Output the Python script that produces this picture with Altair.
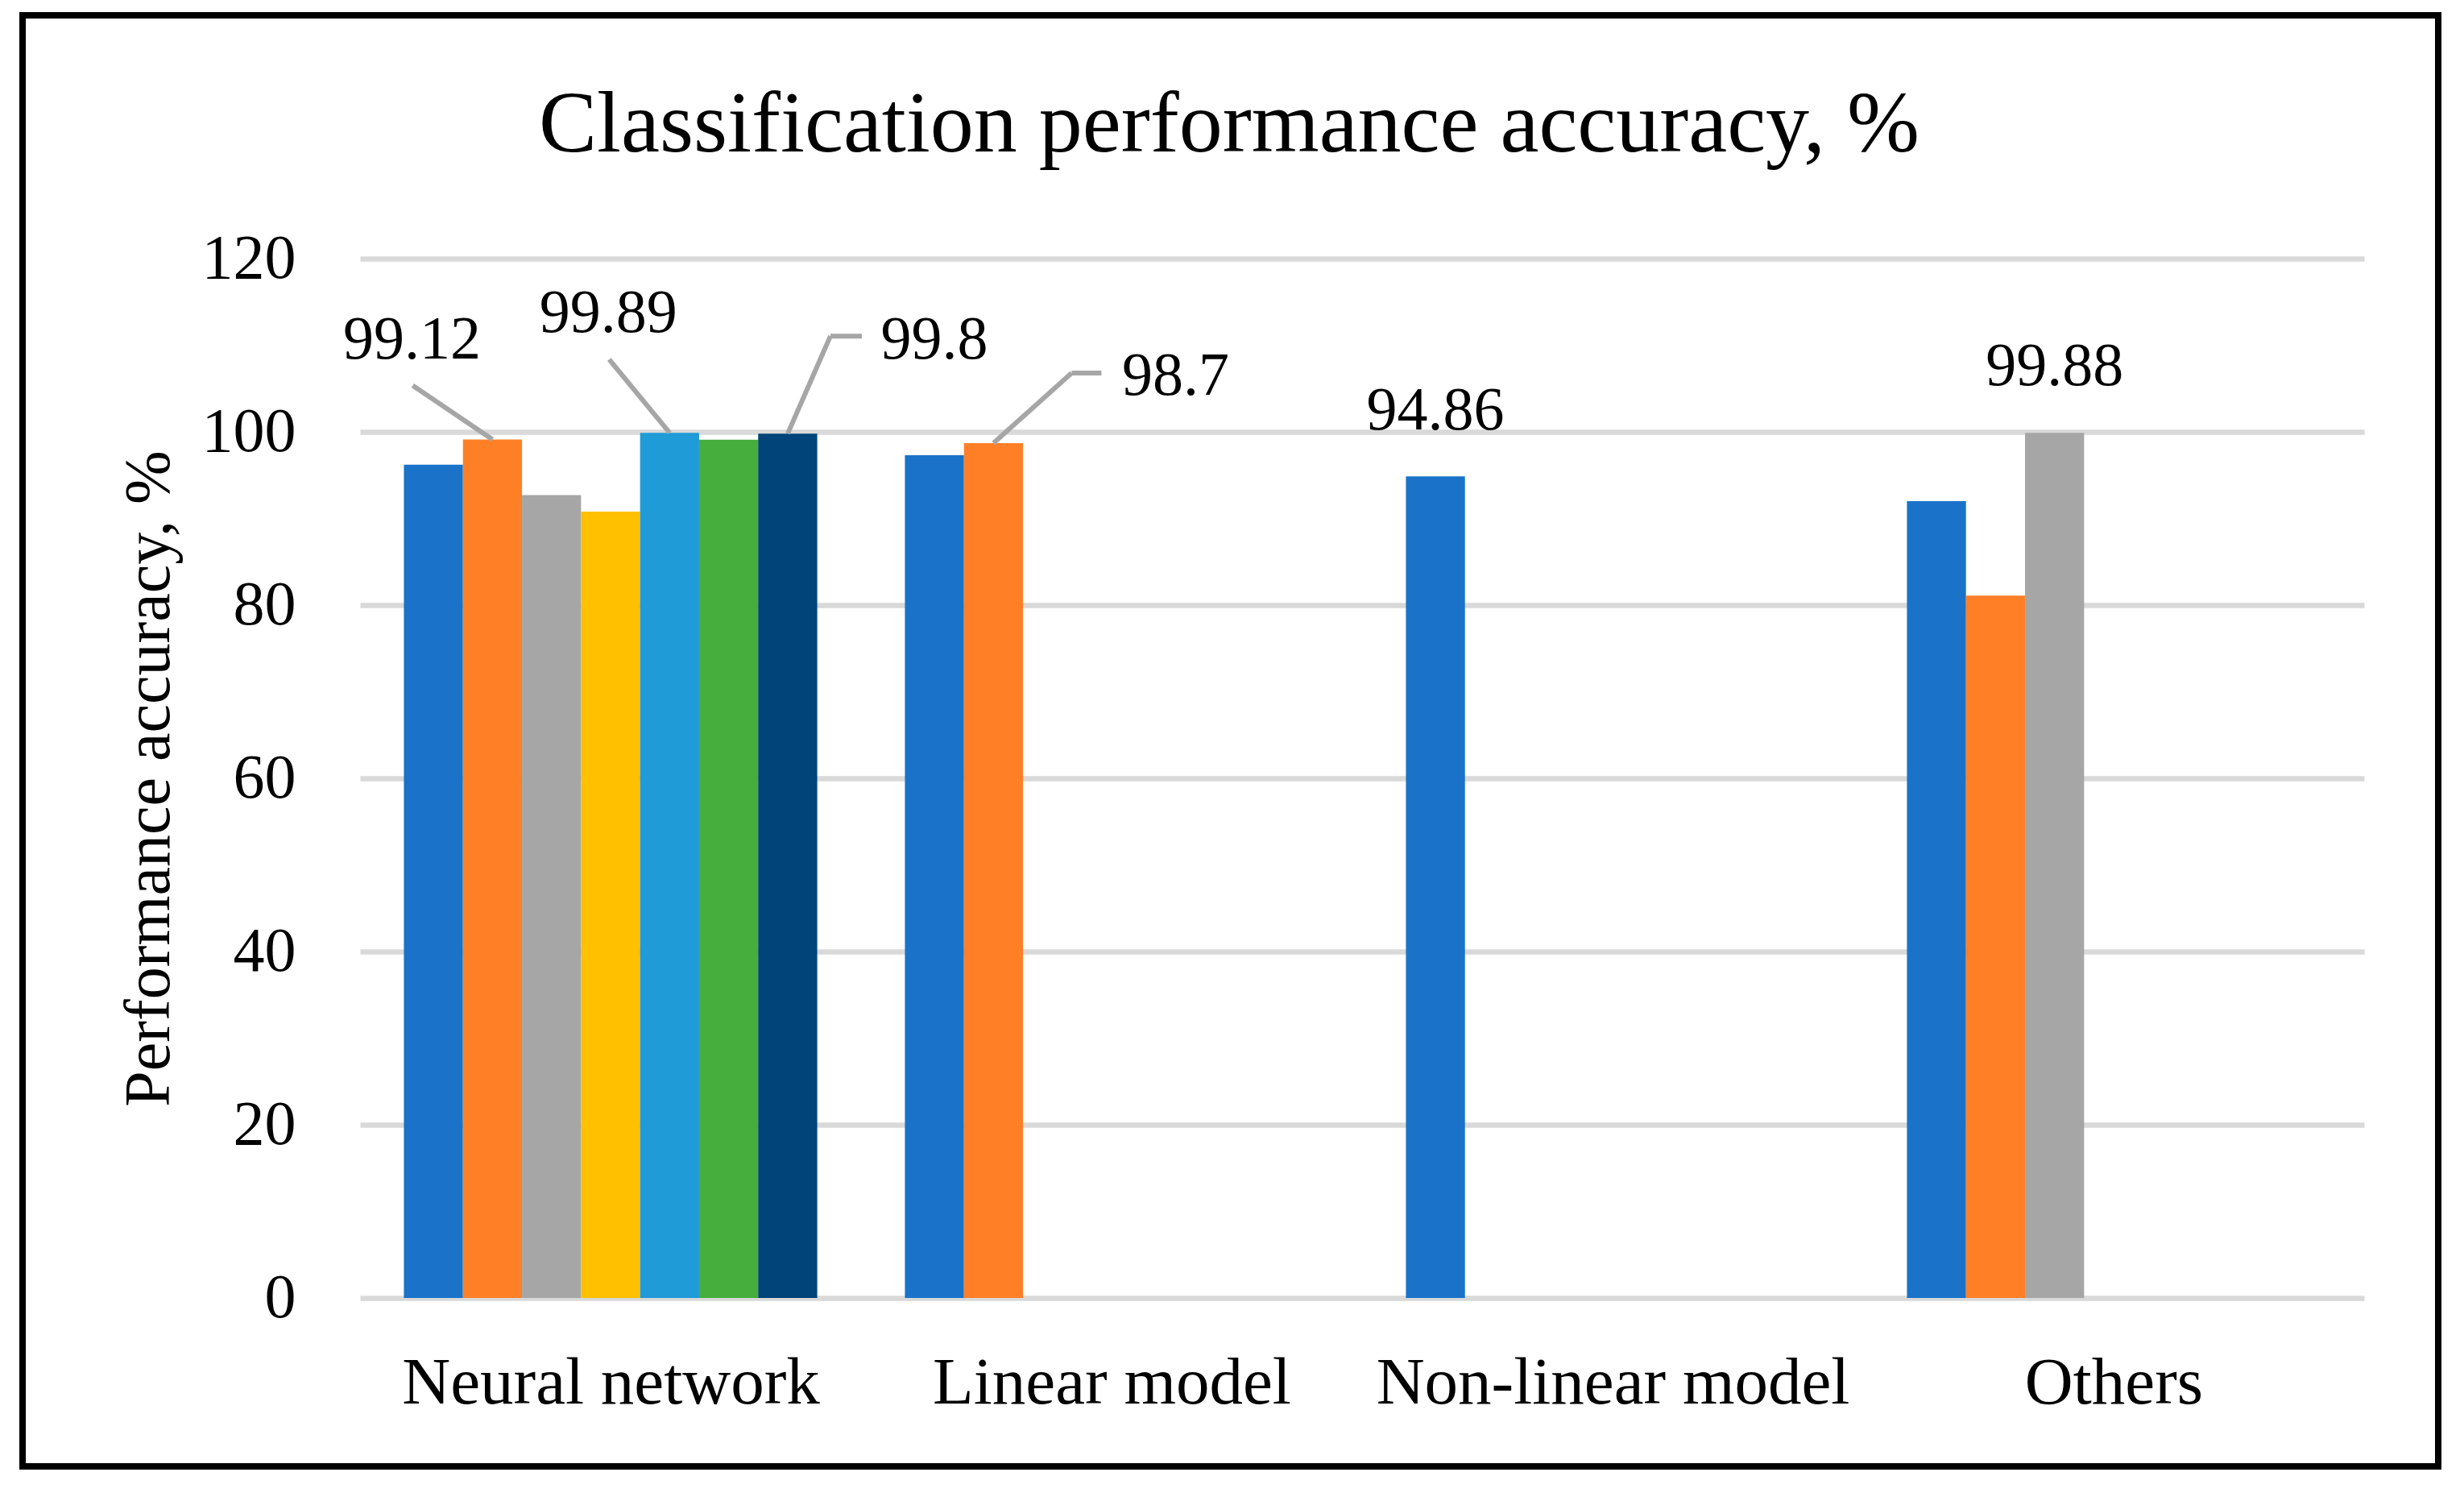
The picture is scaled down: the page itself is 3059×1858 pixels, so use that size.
import json
import altair as alt
import pandas as pd

# ---------------- data ----------------
categories = ["Neural network", "Linear model", "Non-linear model", "Others"]
neural_network = [96.2, 99.12, 92.7, 90.8, 99.89, 99.1, 99.8]
linear_model = [97.3, 98.7]
non_linear_model = [94.86]
others = [92.0, 81.1, 99.88]
y_ticks = [0, 20, 40, 60, 80, 100, 120]
title_text = "Classification performance accuracy, %"
y_title = "Performance accuracy, %"

series_colors = ["#1A73C8", "#FF7F27", "#A6A6A6", "#FFC000",
                 "#1F9BD8", "#45AE3C", "#00447A"]

# bars that carry a data label: (category index, slot index)
labelled_bars = [(0, 1), (0, 4), (0, 6), (1, 1), (2, 0), (3, 2)]
label_texts = ["99.12", "99.89", "99.8", "98.7", "94.86", "99.88"]

# ---------------- layout (annotation placement, in pixels from bar top) ----------------
label_offsets_px = [(-100, 100), (-76, 125), (182, 93), (226, 60), (0, 58), (0, 59)]
leader_segments_px = [
    # (label index, x1, up1, x2, up2)
    (0, 0, 0, -99, 67),
    (1, 0, 0, -75, 91),
    (2, 0, 0, 53, 121),
    (2, 53, 121, 92, 121),
    (3, 0, 0, 97, 87),
    (3, 97, 87, 134, 87),
]

PLOT_W = 2488
PLOT_H = 1290
Y_MAX = 120
N_CAT = len(categories)
N_SLOTS = 7
GROUP_FRAC = 0.825
PX_X = N_CAT / PLOT_W
PX_Y = Y_MAX / PLOT_H
FONT = "Liberation Serif"

all_series = [neural_network, linear_model, non_linear_model, others]

rows = []
for ci, vals in enumerate(all_series):
    for si, v in enumerate(vals):
        rows.append({"cat": ci, "slot": si, "value": v})
bars_df = pd.DataFrame(rows)

lookup = {(r["cat"], r["slot"]): r["value"] for r in rows}

lab_rows = []
for (ci, si), txt, (ox, oy) in zip(labelled_bars, label_texts, label_offsets_px):
    lab_rows.append({"cat": ci, "slot": si, "value": lookup[(ci, si)],
                     "label": txt, "ox": ox, "oy": oy})
labels_df = pd.DataFrame(lab_rows)

seg_rows = []
for li, x1, u1, x2, u2 in leader_segments_px:
    ci, si = labelled_bars[li]
    seg_rows.append({"cat": ci, "slot": si, "value": lookup[(ci, si)],
                     "x1": x1, "u1": u1, "x2": x2, "u2": u2})
segs_df = pd.DataFrame(seg_rows)

pad = (1 - GROUP_FRAC) / 2
slot_w = GROUP_FRAC / N_SLOTS
xc_expr = f"datum.cat + {pad} + (datum.slot + 0.5) * {slot_w}"

x_scale = alt.Scale(domain=[0, N_CAT], nice=False, zero=False)
y_scale = alt.Scale(domain=[0, Y_MAX], nice=False)

label_expr = f"{json.dumps(categories)}[floor(datum.value)]"

x_axis = alt.Axis(values=[i + 0.5 for i in range(N_CAT)], labelExpr=label_expr,
                  grid=False, domain=False, ticks=False, title=None,
                  labelFont=FONT, labelFontSize=83, labelColor="black",
                  labelPadding=64, labelLimit=2000)
y_axis = alt.Axis(values=y_ticks, grid=True, gridColor="#D9D9D9", gridWidth=6.5,
                  domain=False, ticks=False, title=y_title,
                  labelFont=FONT, labelFontSize=78, labelColor="black", labelPadding=80,
                  titleFont=FONT, titleFontSize=80, titleFontWeight="normal",
                  titleColor="black", titlePadding=24)

bars = alt.Chart(bars_df).transform_calculate(
    x0=f"datum.cat + {pad} + datum.slot * {slot_w}",
    x1=f"datum.cat + {pad} + (datum.slot + 1) * {slot_w}",
).mark_bar(stroke=None).encode(
    x=alt.X("x0:Q", scale=x_scale, axis=x_axis),
    x2="x1:Q",
    y=alt.Y("value:Q", scale=y_scale, axis=y_axis),
    y2=alt.datum(0),
    color=alt.Color("slot:N", scale=alt.Scale(domain=list(range(N_SLOTS)), range=series_colors),
                    legend=None),
)

leaders = alt.Chart(segs_df).transform_calculate(
    xa=f"{xc_expr} + datum.x1 * {PX_X}",
    xb=f"{xc_expr} + datum.x2 * {PX_X}",
    ya=f"datum.value + datum.u1 * {PX_Y}",
    yb=f"datum.value + datum.u2 * {PX_Y}",
).mark_rule(color="#A6A6A6", strokeWidth=6, strokeCap="butt").encode(
    x=alt.X("xa:Q", scale=x_scale),
    x2="xb:Q",
    y=alt.Y("ya:Q", scale=y_scale),
    y2="yb:Q",
)

texts = alt.Chart(labels_df).transform_calculate(
    lx=f"{xc_expr} + datum.ox * {PX_X}",
    ly=f"datum.value + datum.oy * {PX_Y}",
).mark_text(font=FONT, fontSize=76, color="black", align="center",
            baseline="alphabetic").encode(
    x=alt.X("lx:Q", scale=x_scale),
    y=alt.Y("ly:Q", scale=y_scale),
    text="label:N",
)

border = alt.Chart(alt.Data(values=[{"k": 1}])).mark_rect(
    filled=False, stroke="black", strokeWidth=8
).encode(
    x=alt.value(-419), x2=alt.value(2580), y=alt.value(-302), y2=alt.value(1499)
)

chart = alt.layer(bars, leaders, texts, border).properties(
    width=PLOT_W,
    height=PLOT_H,
    title=alt.TitleParams(title_text, font=FONT, fontSize=108, fontWeight="normal",
                          color="black", anchor="middle", frame="group", dx=-165,
                          baseline="alphabetic", offset=-281),
    autosize=alt.AutoSizeParams(type="none"),
    padding={"left": 439, "top": 313, "right": 116, "bottom": 239},
).configure(background="white", view=alt.ViewConfig(stroke=None))

chart.save("out.html", embed_options={"renderer": "svg", "actions": False})
